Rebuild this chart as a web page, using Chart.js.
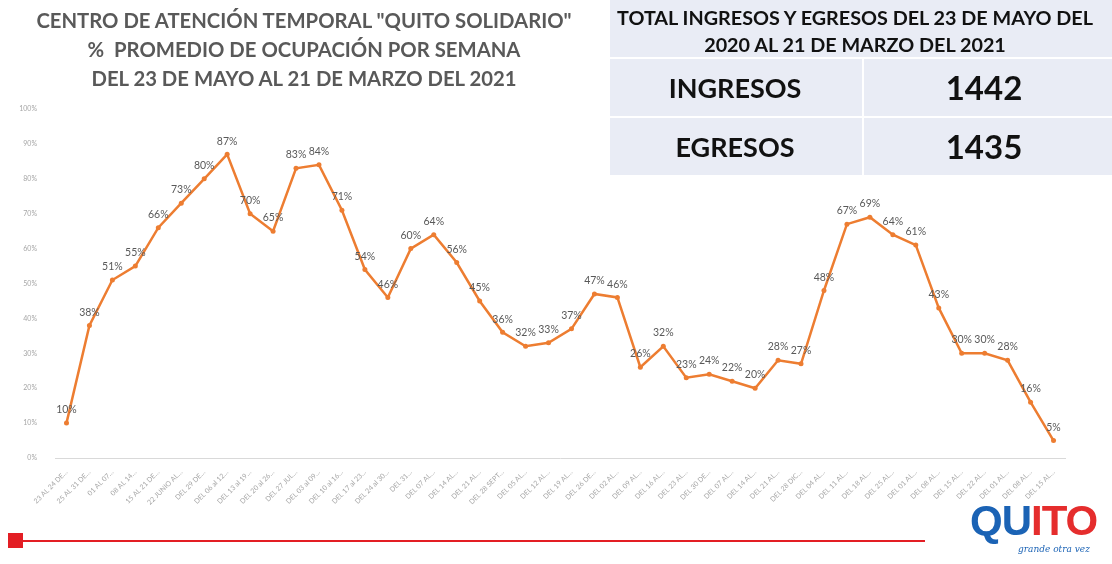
<!DOCTYPE html>
<html>
<head>
<meta charset="utf-8">
<script src="https://cdn.jsdelivr.net/npm/chart.js@4.4.0/dist/chart.umd.min.js"></script>
<style>
  body{margin:0;background:#fff;font-family:Lato,"Open Sans",sans-serif;}
  #wrap{position:relative;width:1112px;height:564px;overflow:hidden;}
  #grafico{position:absolute;left:0;top:0;}
  .titulo{position:absolute;left:4px;top:6px;width:600px;text-align:center;color:#595959;font-weight:bold;font-size:20.3px;line-height:29px;}
  .tabla{position:absolute;left:610px;top:0;width:502px;height:175px;background:#e9ecf5;}
  .tabla .cab{position:absolute;left:-6px;top:4px;width:502px;text-align:center;font-weight:bold;font-size:19.8px;line-height:27px;color:#111;white-space:nowrap;}
  .tabla .fila{position:absolute;left:0;width:502px;height:57px;border-top:2px solid #fff;}
  .tabla .c1,.tabla .c2{position:absolute;top:0;height:57px;line-height:57px;text-align:center;font-weight:bold;color:#111;}
  .tabla .c1{left:0;width:250px;font-size:27px;}
  .tabla .c2{left:252px;width:250px;font-size:33px;border-left:2px solid #fff;}
  .tabla .c2 span{position:relative;left:-5px;}
  .linea{position:absolute;left:22px;top:540px;width:903px;height:2px;background:#e31e24;}
  .cuadro{position:absolute;left:8px;top:533px;width:15px;height:15px;background:#e31e24;}
  .logo{position:absolute;left:970px;top:497px;font-family:"Liberation Sans",Arial,sans-serif;font-weight:bold;font-size:42px;letter-spacing:-1px;}
  .logo .az{color:#1b63b5;}
  .logo .ro{color:#e52d2d;}
  .lema{position:absolute;left:1018px;top:544px;font-family:"DejaVu Serif",serif;font-style:italic;font-size:9px;color:#1b63b5;}
</style>
</head>
<body>
<div id="wrap">
  <canvas id="grafico" width="1112" height="564"></canvas>
  <div class="titulo">CENTRO DE ATENCIÓN TEMPORAL "QUITO SOLIDARIO"<br>%&nbsp; PROMEDIO DE OCUPACIÓN POR SEMANA<br>DEL 23 DE MAYO AL 21 DE MARZO DEL 2021</div>
  <div class="tabla">
    <div class="cab">TOTAL INGRESOS Y EGRESOS DEL 23 DE MAYO DEL<br>2020 AL 21 DE MARZO DEL 2021</div>
    <div class="fila" style="top:57px"><div class="c1">INGRESOS</div><div class="c2"><span id="ingresos"></span></div></div>
    <div class="fila" style="top:116px"><div class="c1">EGRESOS</div><div class="c2"><span id="egresos"></span></div></div>
  </div>
  <div class="cuadro"></div>
  <div class="linea"></div>
  <div class="logo"><span class="az">QU</span><span class="ro">ITO</span></div>
  <div class="lema">grande otra vez</div>
</div>
<script>
// semanas (etiquetas recortadas como en el original)
const semanas=["23 AL 24 DE…","25 AL 31 DE…","01 AL 07…","08 AL 14…","15 AL 21 DE…","22 JUNIO AL…","DEL 29 DE…","DEL 06 al 12…","DEL 13 al 19…","DEL 20 al 26…","DEL 27 JUL…","DEL 03 al 09…","DEL 10 al 16…","DEL 17 al 23…","DEL 24 al 30…","DEL 31…","DEL 07 AL…","DEL 14 AL…","DEL 21 AL…","DEL 28 SEPT…","DEL 05 AL…","DEL 12 AL…","DEL 19 AL…","DEL 26 DE…","DEL 02 AL…","DEL 09 AL…","DEL 16 AL…","DEL 23 AL…","DEL 30 DE…","DEL 07 AL…","DEL 14 AL…","DEL 21 AL…","DEL 28 DIC…","DEL 04 AL…","DEL 11 AL…","DEL 18 AL…","DEL 25 AL…","DEL 01 AL…","DEL 08 AL…","DEL 15 AL…","DEL 22 AL…","DEL 01 AL…","DEL 08 AL…","DEL 15 AL…"]
// % promedio de ocupacion
const ocupacion=[10,38,51,55,66,73,80,87,70,65,83,84,71,54,46,60,64,56,45,36,32,33,37,47,46,26,32,23,24,22,20,28,27,48,67,69,64,61,43,30,30,28,16,5]
const marcasY=[0,10,20,30,40,50,60,70,80,90,100]
const totalIngresos=1442
const totalEgresos=1435

document.getElementById('ingresos').textContent=totalIngresos
document.getElementById('egresos').textContent=totalEgresos

// etiquetas de datos encima de cada punto
const etiquetas={
  id:'etiquetas',
  afterDatasetsDraw(chart){
    const ctx=chart.ctx
    const meta=chart.getDatasetMeta(0)
    ctx.save()
    ctx.font='10.5px Lato'
    ctx.fillStyle='#595959'
    ctx.textAlign='center'
    ctx.textBaseline='bottom'
    meta.data.forEach((p,i)=>{
      ctx.fillText(ocupacion[i]+'%',p.x,p.y-8)
    })
    ctx.restore()
  }
}

var graf=document.getElementById('grafico').getContext('2d')
var chart=new Chart(graf,{
  type:'line',
  data:{
    labels:semanas,
    datasets:[{
      data:ocupacion,
      borderColor:'#ed7d31',
      backgroundColor:'#ed7d31',
      borderWidth:2.5,
      pointRadius:2.5,
      pointBorderWidth:0,
      tension:0,
      fill:false
    }]
  },
  options:{
    responsive:false,
    animation:false,
    layout:{padding:{left:0,right:47,top:109,bottom:0}},
    plugins:{legend:{display:false},tooltip:{enabled:false}},
    scales:{
      x:{
        offset:true,
        grid:{display:false},
        border:{display:true,color:'#d9d9d9',width:1},
        ticks:{autoSkip:false,maxRotation:45,minRotation:45,padding:2,color:'#a6a6a6',font:{size:7,family:'Lato'}},
        afterFit:(s)=>{s.height=106}
      },
      y:{
        min:0,max:100,
        grid:{display:false},
        border:{display:false},
        afterBuildTicks:(s)=>{s.ticks=marcasY.map(v=>({value:v}))},
        ticks:{padding:10,color:'#a6a6a6',font:{size:7,family:'Lato'},callback:(v)=>v+'%'},
        afterFit:(s)=>{s.width=55}
      }
    }
  },
  plugins:[etiquetas]
})
</script>
</body>
</html>
